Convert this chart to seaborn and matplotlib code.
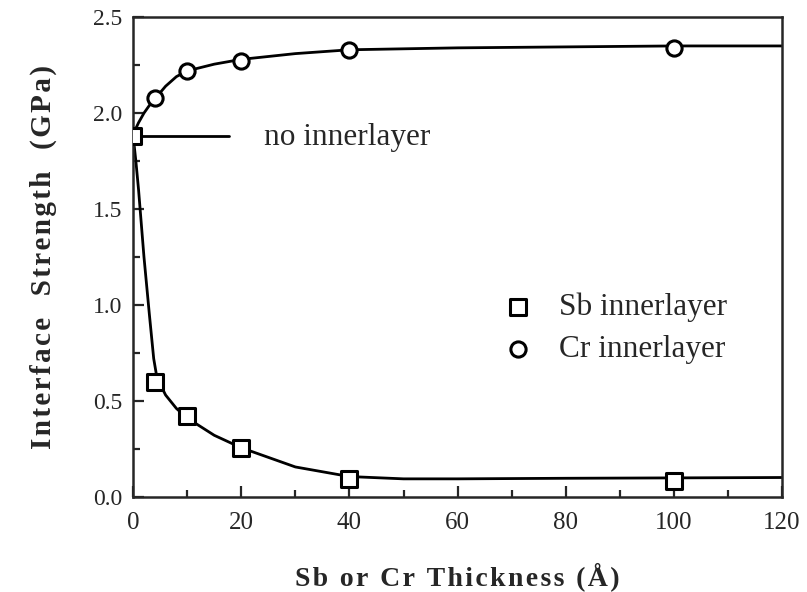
import numpy as np
import pandas as pd
import matplotlib
matplotlib.use("Agg")
import matplotlib.pyplot as plt
import seaborn as sns
from matplotlib.ticker import MultipleLocator, FormatStrFormatter

# measured points
sb_x = [0, 4, 10, 20, 40, 100]
sb_y = [1.88, 0.60, 0.42, 0.255, 0.09, 0.08]
cr_x = [4, 10, 20, 40, 100]
cr_y = [2.08, 2.22, 2.27, 2.33, 2.34]

# fitted curves
sb_fit_x = [0, 0.5, 1, 2, 3, 3.8, 4.4, 6, 8, 10, 15, 20, 30, 40, 50, 60, 80, 100, 120]
sb_fit_y = [1.88, 1.75, 1.6, 1.25, 0.95, 0.72, 0.62, 0.53, 0.46, 0.41, 0.32, 0.255,
            0.155, 0.105, 0.093, 0.093, 0.096, 0.098, 0.10]
cr_fit_x = [0, 0.5, 1, 2, 3, 4.2, 6, 8, 10, 15, 20, 30, 40, 60, 80, 100, 120]
cr_fit_y = [1.88, 1.92, 1.95, 2.0, 2.04, 2.08, 2.14, 2.19, 2.22, 2.255, 2.28, 2.31,
            2.33, 2.34, 2.345, 2.35, 2.35]

# reference line for no innerlayer
ref_x = [0, 17.7]
ref_y = [1.88, 1.88]


def spaced(s):
    # letter-spaced typesetting of the axis titles
    return '\u200a'.join(s)


sns.set_style("ticks")
plt.rcParams['font.family'] = ['Liberation Serif', 'DejaVu Serif']

fig = plt.figure(figsize=(8.07, 5.92), dpi=100)
ax = fig.add_axes([0.165, 0.161, 0.804, 0.810])

for fx, fy in [(sb_fit_x, sb_fit_y), (cr_fit_x, cr_fit_y), (ref_x, ref_y)]:
    sns.lineplot(x=fx, y=fy, sort=False, color='black', lw=2.0, ax=ax)

sns.scatterplot(x=sb_x, y=sb_y, marker='s', s=120, facecolor='white',
                edgecolor='black', linewidth=2.2, zorder=5, ax=ax, label='Sb innerlayer')
sns.scatterplot(x=cr_x, y=cr_y, marker='o', s=120, facecolor='white',
                edgecolor='black', linewidth=2.2, zorder=5, ax=ax, label='Cr innerlayer')

ax.text(24.2, 1.835, 'no innerlayer', fontsize=22.5, va='baseline', ha='left')

ax.set_xlim(0, 120)
ax.set_ylim(0, 2.5)
ax.xaxis.set_major_locator(MultipleLocator(20))
ax.xaxis.set_minor_locator(MultipleLocator(10))
ax.yaxis.set_major_locator(MultipleLocator(0.5))
ax.yaxis.set_minor_locator(MultipleLocator(0.25))
ax.yaxis.set_major_formatter(FormatStrFormatter('%.1f'))
ax.tick_params(which='both', direction='in', width=1.6)
ax.tick_params(which='major', length=8)
ax.tick_params(which='minor', length=5)
ax.tick_params(axis='x', labelsize=18, pad=11)
ax.tick_params(axis='y', labelsize=17, pad=8)
for s in ax.spines.values():
    s.set_linewidth(1.8)

ax.set_xlabel(spaced('Sb or Cr Thickness (Å)'), fontsize=20, fontweight='bold', labelpad=20)
ax.set_ylabel(spaced('Interface  Strength  (GPa)'), fontsize=21, fontweight='bold', labelpad=26)

ax.legend(frameon=False, loc='upper left', bbox_to_anchor=(0.569, 0.425),
          fontsize=22.5, handlelength=1.0, handletextpad=0.8, labelspacing=0.4,
          borderpad=0, borderaxespad=0)

plt.savefig('out.png', dpi=100)
